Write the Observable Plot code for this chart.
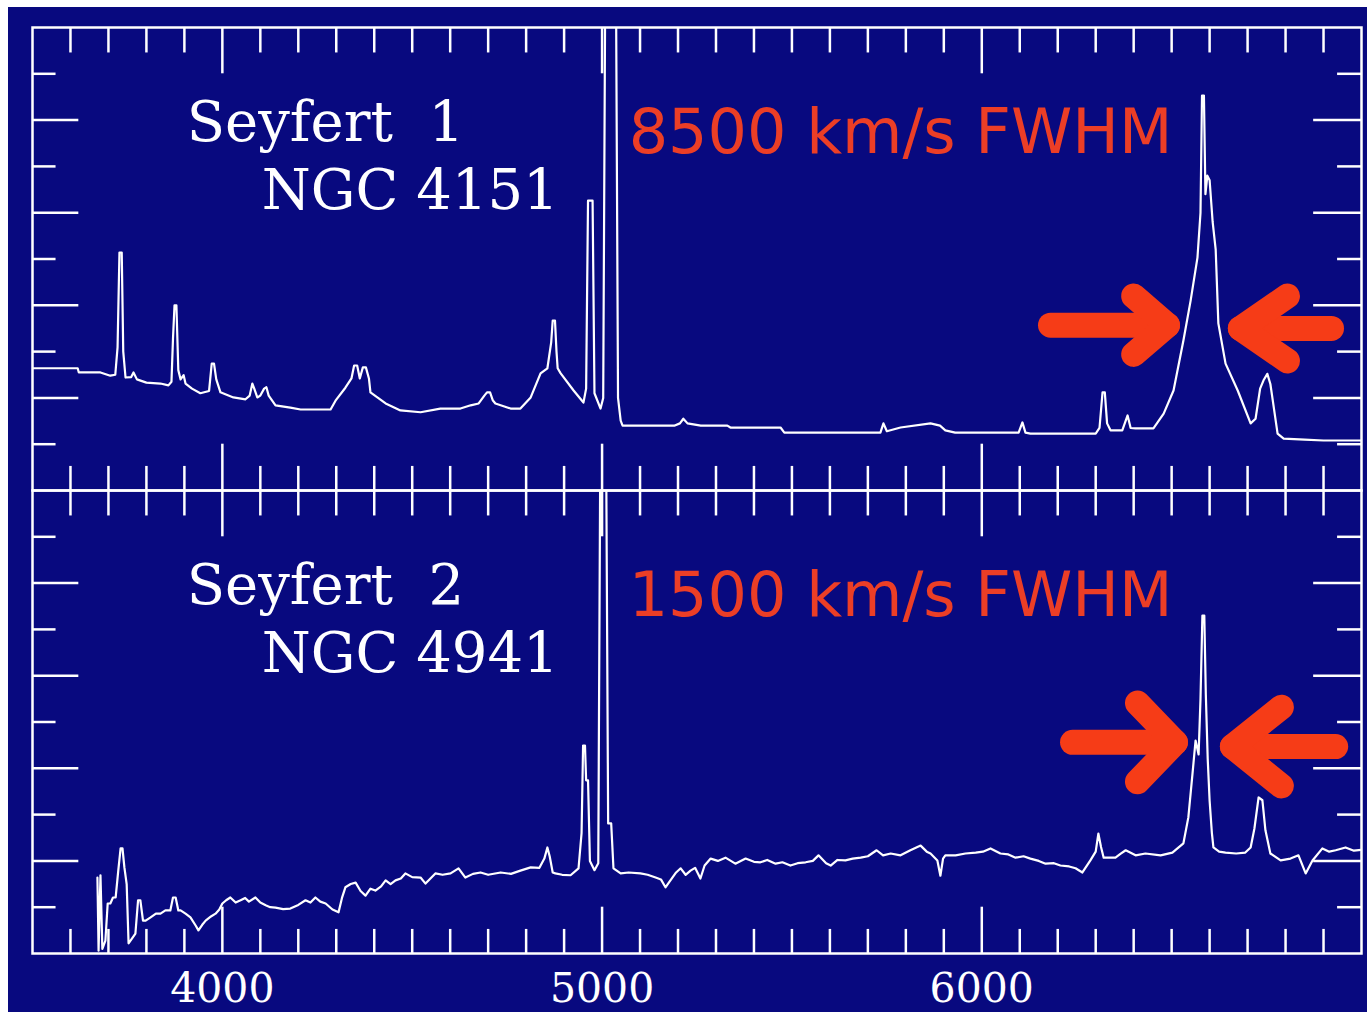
<!DOCTYPE html>
<html><head><meta charset="utf-8">
<script src="https://cdn.jsdelivr.net/npm/d3@7"></script>
<script src="https://cdn.jsdelivr.net/npm/@observablehq/plot@0.6"></script>
<style>
html,body{margin:0;padding:0;background:#fff;width:1367px;height:1012px;overflow:hidden}
#chart{position:absolute;left:8px;top:7px;}
svg text{white-space:pre}
</style></head><body><div id="chart"></div>
<script>
// Panels and labels
const panels = ["Seyfert 1", "Seyfert 2"];
const titles = ["Seyfert  1", "Seyfert  2"];
const galaxies = ["NGC 4151", "NGC 4941"];
const widthLabels = ["8500 km/s FWHM", "1500 km/s FWHM"];

// Axis ticks (wavelength in Å, flux in arbitrary units 0–10 per panel)
const xTickLabels = [4000, 5000, 6000];
const xMajorTicks = [4000, 5000, 6000];
const xMinorTicks = [3600, 3700, 3800, 3900, 4100, 4200, 4300, 4400, 4500, 4600, 4700, 4800, 4900,
  5100, 5200, 5300, 5400, 5500, 5600, 5700, 5800, 5900, 6100, 6200, 6300, 6400, 6500, 6600, 6700, 6800, 6900];
const yMinorTicks = [1, 3, 5, 7, 9];
const yMajorTicks = [2, 4, 6, 8];

// Seyfert 1 – NGC 4151
const wave1 = [3500,3619,3622,3679,3705,3718,3724,3729,3735,3739,3745,3760,3766,3775,3800,3837,3858,3866,3870,3874,3879,3884,3890,3898,3903,3920,3942,3965,3972,3978,3984,3995,4029,4061,4072,4079,4084,4092,4100,4110,4116,4122,4140,4179,4206,4285,4298,4324,4340,4347,4355,4362,4370,4378,4386,4390,4430,4469,4522,4574,4627,4654,4675,4690,4697,4705,4712,4719,4759,4785,4812,4838,4856,4866,4870,4876,4880,4883,4891,4925,4951,4958,4963,4975,4980,4996,5003,5009,5036,5042,5049,5054,5093,5190,5205,5214,5225,5260,5330,5338,5470,5480,5733,5741,5750,5786,5865,5890,5904,5930,6097,6107,6115,6128,6300,6310,6318,6324,6330,6339,6370,6384,6392,6405,6452,6479,6505,6531,6550,6568,6576,6580,6585,6589,6594,6600,6608,6616,6623,6642,6674,6708,6721,6733,6742,6752,6760,6779,6795,6850,6900,7000];
const flux1 = [2.64,2.64,2.55,2.55,2.48,2.50,3.09,5.14,5.14,3.00,2.44,2.45,2.55,2.40,2.33,2.31,2.27,2.35,3.28,4.00,4.00,2.60,2.40,2.49,2.31,2.20,2.10,2.15,2.74,2.74,2.40,2.12,2.01,1.97,2.05,2.31,2.20,2.01,2.05,2.20,2.23,2.05,1.84,1.79,1.75,1.75,1.94,2.22,2.42,2.70,2.70,2.42,2.66,2.66,2.42,2.12,1.88,1.73,1.69,1.77,1.77,1.84,1.88,2.05,2.12,2.12,1.95,1.88,1.77,1.77,2.01,2.53,2.64,3.20,3.67,3.67,3.00,2.64,2.53,2.16,1.90,2.20,6.26,6.26,2.10,1.77,2.00,12,12,2.00,1.51,1.40,1.40,1.40,1.45,1.55,1.45,1.40,1.40,1.36,1.36,1.25,1.25,1.45,1.28,1.36,1.45,1.40,1.30,1.25,1.25,1.47,1.25,1.23,1.23,1.35,2.12,2.12,1.45,1.30,1.30,1.62,1.35,1.34,1.34,1.66,2.16,3.24,4.10,5.03,6.00,8.53,8.53,6.40,6.80,6.70,5.80,5.20,3.61,2.74,2.16,1.45,1.55,2.20,2.38,2.52,2.30,1.23,1.12,1.10,1.08,1.08];

// Seyfert 2 – NGC 4941
const wave2 = [3671,3674,3679,3684,3692,3698,3705,3712,3719,3726,3732,3737,3742,3748,3753,3760,3771,3778,3784,3791,3798,3811,3825,3837,3850,3863,3870,3877,3884,3890,3903,3916,3930,3937,3947,3956,3970,3982,3992,4000,4010,4021,4035,4048,4060,4070,4087,4100,4114,4126,4140,4160,4179,4200,4219,4232,4245,4258,4272,4290,4306,4315,4324,4338,4351,4364,4377,4390,4403,4418,4430,4443,4456,4470,4482,4500,4522,4535,4548,4561,4580,4601,4622,4640,4660,4680,4700,4733,4760,4785,4812,4835,4848,4856,4862,4870,4877,4895,4917,4938,4946,4950,4955,4958,4963,4968,4980,4990,4996,5010,5016,5024,5030,5049,5070,5101,5120,5141,5155,5167,5180,5195,5207,5220,5233,5245,5259,5270,5286,5305,5325,5351,5378,5400,5417,5435,5457,5475,5496,5515,5536,5555,5570,5590,5602,5620,5641,5660,5681,5700,5723,5740,5760,5786,5812,5839,5855,5865,5883,5891,5898,5904,5931,5957,5984,6003,6023,6049,6070,6089,6110,6128,6150,6168,6190,6207,6230,6247,6265,6286,6300,6307,6314,6321,6352,6365,6379,6405,6431,6471,6502,6531,6544,6555,6563,6571,6576,6581,6586,6590,6595,6600,6606,6610,6625,6642,6670,6694,6708,6718,6729,6739,6747,6760,6787,6813,6834,6853,6871,6897,6915,6932,6958,6980,7000];
const flux2 = [1.64,0.06,1.69,0.10,0.28,1.08,1.08,1.21,1.21,1.80,2.27,2.27,1.86,1.50,0.22,0.30,0.43,1.15,1.15,0.71,0.71,0.78,0.86,0.86,0.93,0.93,1.21,1.21,0.93,0.93,0.86,0.78,0.60,0.50,0.62,0.71,0.80,0.86,0.95,1.08,1.15,1.21,1.10,1.15,1.20,1.12,1.21,1.10,1.04,1.00,0.99,0.96,0.97,1.05,1.15,1.10,1.21,1.12,1.08,0.95,0.89,1.20,1.43,1.50,1.53,1.35,1.25,1.40,1.36,1.45,1.58,1.50,1.58,1.62,1.73,1.65,1.64,1.51,1.62,1.73,1.70,1.73,1.84,1.64,1.72,1.75,1.70,1.75,1.72,1.79,1.86,1.85,2.05,2.29,2.10,1.75,1.73,1.70,1.69,1.84,2.60,4.49,4.49,3.74,3.74,2.00,1.80,1.95,12,12,2.81,2.81,1.84,1.73,1.75,1.73,1.70,1.64,1.60,1.43,1.58,1.75,1.84,1.70,1.79,1.85,1.62,1.90,2.05,2.00,2.07,1.94,2.05,1.98,1.97,2.02,1.94,1.97,1.90,1.95,1.97,2.00,2.12,1.95,1.90,2.02,2.01,2.05,2.07,2.10,2.23,2.12,2.16,2.12,2.23,2.33,2.20,2.16,2.01,1.68,2.05,2.12,2.12,2.16,2.18,2.20,2.27,2.16,2.14,2.07,2.10,2.05,2.00,1.94,1.95,1.90,1.88,1.84,1.75,2.01,2.20,2.59,2.30,2.07,2.07,2.15,2.23,2.12,2.16,2.12,2.18,2.38,2.94,3.89,4.60,4.30,5.50,7.30,7.30,5.60,4.20,3.30,2.60,2.29,2.20,2.18,2.16,2.18,2.29,2.70,3.37,3.31,2.66,2.16,2.01,2.05,2.12,1.73,2.01,2.27,2.20,2.23,2.29,2.22,2.24];

// FWHM arrows flanking H-alpha (wavelength / flux units)
const arrowPanel = ["Seyfert 1", "Seyfert 1", "Seyfert 2", "Seyfert 2"];
const arrowTail = [6181, 6921, 6239, 6932];
const arrowTip = [6489, 6681, 6510, 6660];
const arrowWing = [6400, 6805, 6410, 6789];
const arrowLevel = [3.57, 3.50, 4.56, 4.47];
const arrowSpread = [0.63, 0.70, 0.85, 0.85];

// Build tables
const spectra = [];
wave1.forEach((w, i) => spectra.push({panel: panels[0], w, f: flux1[i]}));
wave2.forEach((w, i) => spectra.push({panel: panels[1], w, f: flux2[i]}));
const labelRows = panels.map((p, i) => ({panel: p, title: titles[i], galaxy: galaxies[i], fwhm: widthLabels[i]}));
const arrowPaths = [];
arrowPanel.forEach((p, i) => {
  arrowPaths.push({id: "s" + i, panel: p, w: arrowTail[i], f: arrowLevel[i]});
  arrowPaths.push({id: "s" + i, panel: p, w: arrowTip[i], f: arrowLevel[i]});
  arrowPaths.push({id: "h" + i, panel: p, w: arrowWing[i], f: arrowLevel[i] + arrowSpread[i]});
  arrowPaths.push({id: "h" + i, panel: p, w: arrowTip[i], f: arrowLevel[i]});
  arrowPaths.push({id: "h" + i, panel: p, w: arrowWing[i], f: arrowLevel[i] - arrowSpread[i]});
});

const W = "white";
const tk = {stroke: W, strokeWidth: 2.5};
const chart = Plot.plot({
  width: 1359, height: 1005,
  marginLeft: 24, marginRight: 6, marginTop: 20, marginBottom: 59,
  style: {background: "#08097f", color: "white", overflow: "visible"},
  x: {domain: [3500, 7000], axis: null},
  y: {domain: [0, 10], axis: null},
  fy: {domain: panels, padding: 0, axis: null},
  marks: [
    Plot.ruleX(xMinorTicks, {x: d => d, y1: 10, y2: 9.45, ...tk}),
    Plot.ruleX(xMajorTicks, {x: d => d, y1: 10, y2: 9.0, ...tk}),
    Plot.ruleX(xMinorTicks, {x: d => d, y1: 0, y2: 0.52, ...tk}),
    Plot.ruleX(xMajorTicks, {x: d => d, y1: 0, y2: 1.0, ...tk}),
    Plot.ruleY(yMinorTicks, {y: d => d, x1: 3500, x2: 3562, ...tk}),
    Plot.ruleY(yMajorTicks, {y: d => d, x1: 3500, x2: 3622, ...tk}),
    Plot.ruleY(yMinorTicks, {y: d => d, x1: 7000, x2: 6937, ...tk}),
    Plot.ruleY(yMajorTicks, {y: d => d, x1: 7000, x2: 6874, ...tk}),
    Plot.frame({stroke: W, strokeWidth: 2.5}),
    Plot.line(arrowPaths, {x: "w", y: "f", z: "id", fy: "panel", stroke: "#f63c17",
      strokeWidth: 25, strokeLinecap: "round", strokeLinejoin: "round"}),
    Plot.line(spectra, {x: "w", y: "f", z: "panel", fy: "panel", stroke: W, strokeWidth: 2.2, clip: true}),
    Plot.text(labelRows, {x: 3906, y: 7.55, fy: "panel", text: "title", fill: W,
      fontFamily: "DejaVu Serif", fontSize: 56, textAnchor: "start", lineAnchor: "bottom"}),
    Plot.text(labelRows, {x: 4104, y: 6.08, fy: "panel", text: "galaxy", fill: W,
      fontFamily: "DejaVu Serif", fontSize: 56, textAnchor: "start", lineAnchor: "bottom"}),
    Plot.text(labelRows, {x: 5070, y: 7.3, fy: "panel", text: "fwhm", fill: "#ec3e26",
      fontFamily: "DejaVu Sans", fontSize: 62, textAnchor: "start", lineAnchor: "bottom"}),
    Plot.text(xTickLabels, {x: d => d, fy: () => panels[1], frameAnchor: "bottom", dy: 19,
      lineAnchor: "top", text: d => String(d), fill: W, fontFamily: "DejaVu Serif", fontSize: 41})
  ]
});
document.getElementById("chart").appendChild(chart);
</script></body></html>
